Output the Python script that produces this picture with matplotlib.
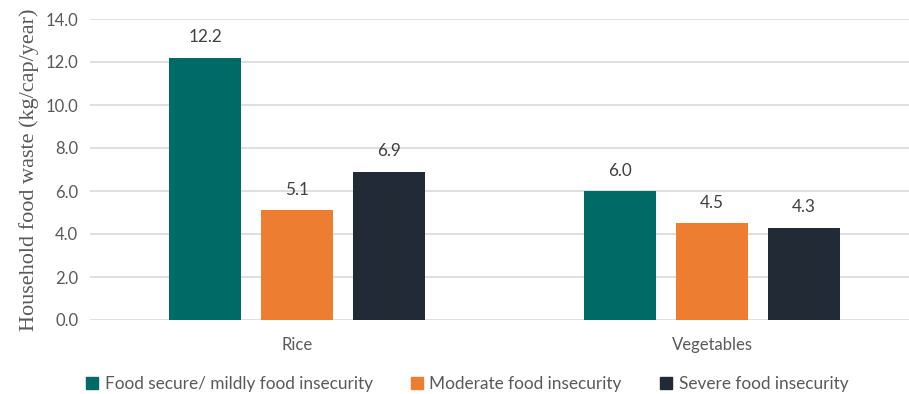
import numpy as np
import matplotlib
matplotlib.use("Agg")
import matplotlib.pyplot as plt
from matplotlib.patches import Patch

categories = ["Rice", "Vegetables"]
series_names = ["Food secure/ mildly food insecurity",
                "Moderate food insecurity",
                "Severe food insecurity"]
food_secure = [12.2, 6.0]
moderate = [5.1, 4.5]
severe = [6.9, 4.3]
y_ticks = [0, 2, 4, 6, 8, 10, 12, 14]

colors = ["#006A66", "#ED7D31", "#222A35"]
text_col = "#595959"

plt.rcParams["font.family"] = ["Lato", "DejaVu Sans"]

fig = plt.figure(figsize=(9.09, 3.94), dpi=100)
# axes runs slightly past the right edge, like the source
ax = fig.add_axes([89.5 / 909, 1 - 320 / 394, 830 / 909, (320 - 19) / 394])

x = np.arange(len(categories))
width = 0.1735
step = 0.2217
for i, (vals, name) in enumerate(zip([food_secure, moderate, severe], series_names)):
    pos = x + (i - 1) * step
    bars = ax.bar(pos, vals, width, color=colors[i], label=name, zorder=3)
    for b, v in zip(bars, vals):
        ax.annotate(f"{v:.1f}", (b.get_x() + b.get_width() / 2, v),
                    xytext=(0, 9), textcoords="offset points",
                    ha="center", va="bottom", fontsize=12.3, color="#404040")

ax.set_xlim(-0.5, 1.5)
ax.set_ylim(0, 14)
ax.set_yticks(y_ticks)
ax.set_yticklabels([f"{t:.1f}" for t in y_ticks], fontsize=12, color=text_col)
ax.set_xticks(x)
ax.set_xticklabels(categories, fontsize=12, color=text_col)
ax.tick_params(axis="both", length=0)
ax.tick_params(axis="x", pad=12)
ax.tick_params(axis="y", pad=8)
ax.grid(axis="y", color="#D9D9D9", linewidth=1.2, zorder=0)
for s in ax.spines.values():
    s.set_visible(False)

ax.set_ylabel("Household food waste (kg/cap/year)", family="Liberation Serif",
              fontsize=16, color=text_col, labelpad=5)

handles = [Patch(color=c) for c in colors]
fig.legend(handles, series_names, loc="center", bbox_to_anchor=(467 / 909, 1 - 384 / 394),
           ncol=3, frameon=False, fontsize=12.4, labelcolor=text_col,
           handlelength=0.7, handleheight=0.7, handletextpad=0.4, columnspacing=2.2,
           borderpad=0.1)

fig.savefig("out.png", dpi=100)
